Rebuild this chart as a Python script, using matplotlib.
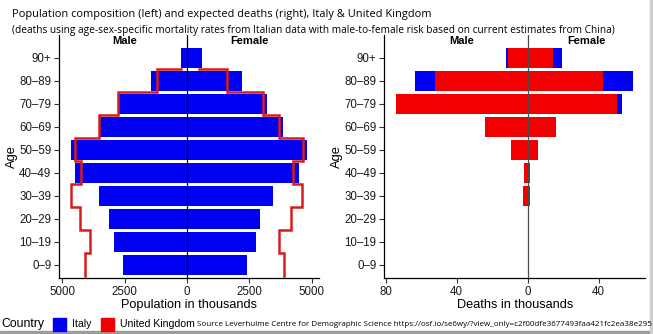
import numpy as np
import matplotlib.pyplot as plt
from matplotlib.patches import Rectangle

# age groups, youngest first
ages = ['0–9', '10–19', '20–29', '30–39', '40–49', '50–59',
        '60–69', '70–79', '80–89', '90+']

# population in thousands
italy_male = np.array([2570, 2945, 3145, 3520, 4485, 4672, 3507, 2731, 1460, 241])
italy_female = np.array([2410, 2758, 2932, 3440, 4485, 4833, 3868, 3226, 2222, 590])
uk_male = np.array([4083, 3882, 4311, 4645, 4244, 4511, 3547, 2758, 1218, 241])
uk_female = np.array([3909, 3708, 4164, 4632, 4271, 4645, 3708, 3066, 1620, 500])

# expected deaths in thousands
italy_dmale = np.array([0.0, 0.0, 0.1, 1.5, 1.8, 8.0, 22.0, 70.0, 63.7, 12.2])
italy_dfemale = np.array([0.0, 0.0, 0.1, 1.0, 1.2, 5.0, 16.2, 53.3, 59.2, 19.2])
uk_dmale = np.array([0.0, 0.0, 0.1, 2.4, 2.1, 9.2, 24.0, 74.2, 52.4, 10.9])
uk_dfemale = np.array([0.0, 0.0, 0.1, 1.5, 1.5, 5.8, 15.8, 50.1, 42.6, 14.1])

BLUE = '#0000f2'
RED = '#f20000'
LINE_RED = '#d81c1c'
AXFONT = 'Liberation Sans'
TFONT = ['Open Sans', 'DejaVu Sans']

idx = np.arange(len(ages))


def step_outline(vals):
    # vertical segment per age group, joined at the group boundaries
    xs = np.append(np.repeat(vals[:-1], 2), vals[-1])
    ys = np.append(np.column_stack([idx[:-1] - 0.5, idx[:-1] + 0.5]).ravel(),
                   idx[-1] - 0.5)
    return xs, ys


def style_axes(ax):
    for s in ['top', 'right']:
        ax.spines[s].set_visible(False)
    for s in ['left', 'bottom']:
        ax.spines[s].set_linewidth(0.9)
        ax.spines[s].set_color('black')
    ax.set_yticks(idx)
    ax.set_yticklabels(ages, fontsize=8.3, family=AXFONT, color='#1a1a1a')
    ax.tick_params(axis='both', length=3.5, width=0.8, pad=2, color='#333333')
    for lab in ax.get_xticklabels():
        lab.set_family(AXFONT)
        lab.set_fontsize(8.3)
        lab.set_color('#1a1a1a')
    ax.set_ylim(-0.57, 10.0)
    ax.set_ylabel('Age', fontsize=9.3, family=AXFONT, labelpad=1)


fig = plt.figure(figsize=(6.53, 3.34), dpi=100)
ax1 = fig.add_axes([59 / 653, 56 / 334, 260 / 653, 243 / 334])
ax2 = fig.add_axes([384.3 / 653, 56 / 334, 260.7 / 653, 243 / 334])

# left: population pyramid, Italy as bars, UK as an outline
ax1.barh(idx, -italy_male, height=0.9, color=BLUE, edgecolor='none')
ax1.barh(idx, italy_female, height=0.9, color=BLUE, edgecolor='none')
xm, ym = step_outline(-uk_male)
xf, yf = step_outline(uk_female)
ax1.plot(xm, ym, color=LINE_RED, lw=1.8, solid_joinstyle='miter', zorder=3)
ax1.plot(xf, yf, color=LINE_RED, lw=1.8, solid_joinstyle='miter', zorder=3)
ax1.axvline(0, color='black', lw=0.9, zorder=4)
ax1.set_xlim(-5140, 5300)
ax1.set_xticks([-5000, -2500, 0, 2500, 5000])
ax1.set_xticklabels(['5000', '2500', '0', '2500', '5000'])
ax1.set_xlabel('Population in thousands', fontsize=9.2, family=AXFONT, labelpad=1)
style_axes(ax1)
ax1.text(-2500, 9.75, 'Male', ha='center', va='center', fontsize=8,
         fontweight='bold', family=AXFONT)
ax1.text(2500, 9.75, 'Female', ha='center', va='center', fontsize=8,
         fontweight='bold', family=AXFONT)

# right: expected deaths, UK drawn over Italy
ax2.barh(idx, -italy_dmale, height=0.9, color=BLUE, edgecolor='none')
ax2.barh(idx, italy_dfemale, height=0.9, color=BLUE, edgecolor='none')
ax2.barh(idx, -uk_dmale, height=0.9, color=RED, edgecolor='none')
ax2.barh(idx, uk_dfemale, height=0.9, color=RED, edgecolor='none')
ax2.axvline(0, color='#4a4a4a', lw=0.9, zorder=4)
ax2.set_xlim(-80.8, 66.1)
ax2.set_xticks([-80, -40, 0, 40])
ax2.set_xticklabels(['80', '40', '0', '40'])
ax2.set_xlabel('Deaths in thousands', fontsize=9.2, family=AXFONT, labelpad=1)
style_axes(ax2)
ax2.text(-37, 9.75, 'Male', ha='center', va='center', fontsize=8,
         fontweight='bold', family=AXFONT)
ax2.text(33, 9.75, 'Female', ha='center', va='center', fontsize=8,
         fontweight='bold', family=AXFONT)

# titles
fig.text(12 / 653, 1 - 15 / 334,
         'Population composition (left) and expected deaths (right), Italy & United Kingdom',
         ha='left', va='center', fontsize=7.95, family=TFONT)
fig.text(12 / 653, 1 - 30 / 334,
         '(deaths using age-sex-specific mortality rates from Italian data with '
         'male-to-female risk based on current estimates from China)',
         ha='left', va='center', fontsize=7.28, family=TFONT)

# legend row and source note
ly = 1 - 324 / 334
fig.text(1 / 653, ly, 'Country', ha='left', va='center', fontsize=8.8, family=AXFONT)
fig.patches.append(Rectangle((53 / 653, 1 - 331 / 334), 13 / 653, 13 / 334,
                             transform=fig.transFigure, color=BLUE))
fig.text(72 / 653, ly, 'Italy', ha='left', va='center', fontsize=7.6, family=AXFONT)
fig.patches.append(Rectangle((101 / 653, 1 - 331 / 334), 13 / 653, 13 / 334,
                             transform=fig.transFigure, color=RED))
fig.text(120 / 653, ly, 'United Kingdom', ha='left', va='center', fontsize=7.6,
         family=AXFONT)
fig.text(197 / 653, ly,
         'Source Leverhulme Centre for Demographic Science '
         'https://osf.io/se6wy/?view_only=c2f00dfe3677493faa421fc2ea38e295',
         ha='left', va='center', fontsize=5.74, family=TFONT)

# window frame along the bottom and right edges
fig.patches.append(Rectangle((0, 0), 1, 3 / 334, transform=fig.transFigure,
                             color='#9c9c9c', zorder=0))
fig.patches.append(Rectangle((1 - 3 / 653, 0), 3 / 653, 1, transform=fig.transFigure,
                             color='#cfcfcf', zorder=0))

fig.savefig('out.png', dpi=100)
